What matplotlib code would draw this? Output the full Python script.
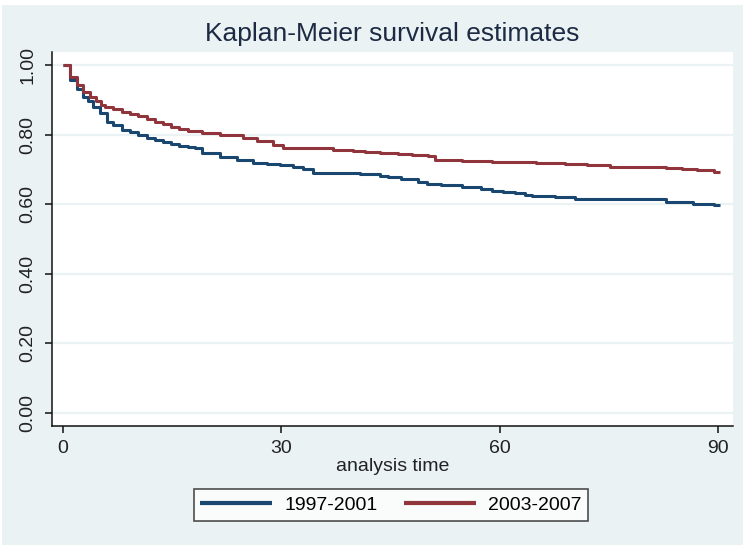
import matplotlib
matplotlib.use("Agg")
import matplotlib.pyplot as plt
from matplotlib.patches import Rectangle

plt.rcParams['font.family'] = ['Liberation Sans', 'DejaVu Sans']

title = "Kaplan-Meier survival estimates"
xlabel = "analysis time"
series_names = ["1997-2001", "2003-2007"]
xticks = [0, 30, 60, 90]
yticks = [0.0, 0.2, 0.4, 0.6, 0.8, 1.0]
ytick_labels = ["0.00", "0.20", "0.40", "0.60", "0.80", "1.00"]

t_1997 = [0, 1, 1.9, 2.8, 3.5, 4.2, 5.1, 6.0, 6.9, 8.1, 9.2, 10.3, 11.5, 12.6, 13.8,
          14.9, 16.0, 17.2, 18.2, 19.1, 19.7, 21.6, 23.9, 26.1, 28.0, 29.8, 31.6,
          33.0, 34.4, 40.8, 43.6, 44.7, 46.5, 48.8, 50.0, 52.0, 54.8, 57.5, 58.9,
          60.5, 62.1, 63.5, 64.4, 67.6, 70.3, 79.3, 82.9, 86.6, 89.4, 90.3]
s_1997 = [1.0, 0.957, 0.930, 0.909, 0.897, 0.880, 0.861, 0.837, 0.828, 0.813, 0.806,
          0.799, 0.791, 0.784, 0.779, 0.773, 0.768, 0.763, 0.761, 0.748, 0.746, 0.735,
          0.727, 0.717, 0.715, 0.713, 0.708, 0.701, 0.689, 0.687, 0.681, 0.679, 0.672,
          0.663, 0.659, 0.655, 0.649, 0.644, 0.639, 0.635, 0.631, 0.627, 0.624, 0.622,
          0.616, 0.614, 0.607, 0.601, 0.598, 0.598]

t_2003 = [0, 1.0, 1.9, 2.8, 3.7, 4.6, 5.3, 5.8, 6.9, 8.1, 9.2, 10.3, 11.5, 12.6, 13.8,
          14.9, 16.0, 17.2, 19.1, 21.6, 24.8, 26.6, 28.9, 30.3, 33.0, 37.1, 39.9,
          41.5, 43.6, 46.1, 48.0, 50.2, 51.1, 54.8, 58.9, 62.1, 65.0, 69.0, 72.0,
          75.2, 79.0, 82.9, 85.0, 87.1, 89.4, 90.3]
s_2003 = [1.0, 0.966, 0.943, 0.923, 0.909, 0.895, 0.885, 0.880, 0.873, 0.866, 0.859,
          0.852, 0.845, 0.837, 0.830, 0.823, 0.817, 0.811, 0.805, 0.799, 0.789, 0.780,
          0.770, 0.762, 0.760, 0.756, 0.752, 0.749, 0.746, 0.743, 0.740, 0.737, 0.727,
          0.723, 0.721, 0.720, 0.717, 0.714, 0.712, 0.708, 0.706, 0.703, 0.700, 0.698,
          0.693, 0.693]

BLUE = '#1a476f'
RED = '#90353b'
BG = '#eaf2f3'
W, H = 750, 549

fig = plt.figure(figsize=(7.5, 5.49), dpi=100)
fig.patch.set_facecolor('white')
fig.patches.append(Rectangle((2 / W, 1 - 545 / H), (743 - 2) / W, (545 - 5) / H,
                             transform=fig.transFigure, facecolor=BG,
                             edgecolor='none', zorder=-10))

ax = fig.add_axes([52 / W, 1 - 426 / H, (733 - 52) / W, (426 - 52) / H])
ax.set_facecolor('white')

for y in yticks:
    ax.axhline(y, color=BG, lw=1.6, zorder=0)

ax.plot(t_1997, s_1997, drawstyle='steps-post', color=BLUE, lw=2.2,
        label=series_names[0], solid_capstyle='butt')
ax.plot(t_2003, s_2003, drawstyle='steps-post', color=RED, lw=2.2,
        label=series_names[1], solid_capstyle='butt')

ax.set_xlim(-1.5, 92.06)
ax.set_ylim(-0.037, 1.037)
ax.set_xticks(xticks)
ax.set_xticklabels([str(v) for v in xticks])
ax.set_yticks(yticks)
ax.set_yticklabels(ytick_labels, rotation=90, va='center')

for s in ['top', 'right']:
    ax.spines[s].set_visible(False)
for s in ['left', 'bottom']:
    ax.spines[s].set_color('#111111')
    ax.spines[s].set_linewidth(1.1)

ax.tick_params(axis='both', direction='out', length=5, width=1.1,
               color='#111111', labelsize=14, labelcolor='#222222')
ax.tick_params(axis='x', pad=5)
ax.tick_params(axis='y', pad=6)

ax.set_xlabel(xlabel, fontsize=14, color='#222222', labelpad=1)

fig.text(392 / W, 1 - 34 / H, title, ha='center', va='center',
         fontsize=19, color='#1c2a44')

leg = fig.legend(loc='center', bbox_to_anchor=(391 / W, 1 - 505 / H), ncol=2,
                 fontsize=14, frameon=True, fancybox=False, handlelength=3.7,
                 handletextpad=0.6, columnspacing=1.4, borderpad=0.35,
                 edgecolor='#222222')
leg.get_frame().set_linewidth(1.2)
leg.get_frame().set_facecolor('white')
for line in leg.get_lines():
    line.set_linewidth(3)

fig.savefig('out.png', dpi=100)
